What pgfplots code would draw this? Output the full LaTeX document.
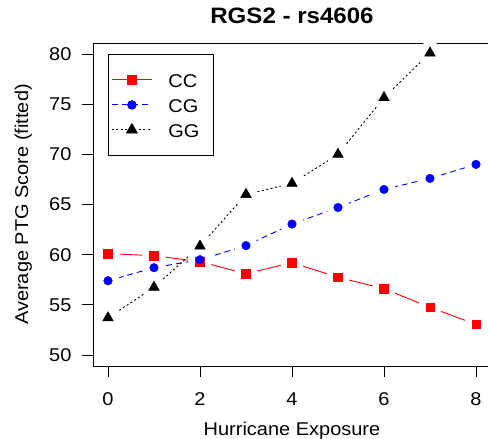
\documentclass[border=0pt]{standalone}
\usepackage{fontspec}
\setmainfont{Liberation Sans}[FakeStretch=1.08]
\usepackage{pgfplots}
\usepackage{pgfplotstable}
\pgfplotsset{compat=1.18}

% fitted PTG score by hurricane exposure, per genotype
\pgfplotstableread{
x y
0 60.1
1 59.9
2 59.3
3 58.1
4 59.2
5 57.75
6 56.6
7 54.75
8 53.05
}\cc
\pgfplotstableread{
x y
0 57.4
1 58.7
2 59.5
3 60.9
4 63.05
5 64.7
6 66.5
7 67.6
8 69.0
}\cg
\pgfplotstableread{
x y
0 53.7
1 56.75
2 60.85
3 66.0
4 67.1
5 70.0
6 75.65
7 80.1
}\gg

\pgfplotsset{
  ccstyle/.style={color=red, solid},
  cgstyle/.style={color=blue, dash pattern=on 6pt off 4pt},
  ggstyle/.style={color=black, dash pattern=on 2pt off 2.5pt},
  joinline/.style={forget plot, no marks, line width=0.9pt},
  halo/.style={forget plot, only marks, mark=*, mark size=11.5pt, color=white},
}

\begin{document}
\begin{tikzpicture}
\begin{axis}[
  clip=false, axis on top,
  scale only axis, width=398pt, height=323pt,
  xmin=-0.326, xmax=8.326, ymin=48.9, ymax=81.1,
  xtick={0,2,4,6,8}, ytick={50,55,60,65,70,75,80},
  xtick pos=left, ytick pos=left, tick align=outside,
  major tick length=11pt,
  every tick/.style={black, line width=0.9pt},
  axis line style={line width=0.9pt},
  /pgf/number format/assume math mode=true,
  ticklabel style={font=\fontsize{18.5}{22}\selectfont},
  xticklabel style={yshift=-12pt},
  yticklabel style={xshift=-7pt},
  label style={font=\fontsize{18.5}{22}\selectfont},
  title={RGS2 - rs4606},
  title style={at={(axis description cs:0.5,1.043)}, anchor=base, font=\fontsize{22.3}{26}\selectfont\bfseries},
  xlabel={Hurricane Exposure},
  ylabel={Average PTG Score (fitted)},
  xlabel style={at={(axis description cs:0.5,-0.2167)}, anchor=base},
  ylabel style={at={(axis description cs:-0.163,0.5)}, anchor=base},
  legend cell align=left,
  legend image code/.code={\draw[mark repeat=2, mark phase=2, #1] plot coordinates {(0pt,0pt) (20pt,0pt) (40pt,0pt)};},
  legend style={at={(axis description cs:0.0377,0.966)}, anchor=north west,
    draw=black, line width=0.9pt, fill=white,
    font=\fontsize{18.5}{22}\selectfont,
    inner xsep=3pt, inner ysep=15.5pt, row sep=5pt, column sep=14pt,
    nodes={inner xsep=2pt, inner ysep=2pt, text height=16pt, text depth=0pt}},
]
% lines first
\addplot[joinline, ccstyle] table {\cc};
\addplot[joinline, cgstyle] table {\cg};
\addplot[joinline, ggstyle] table {\gg};
% white gaps round the points
\addplot[halo] table {\cc};
\addplot[halo] table {\cg};
\addplot[halo] table {\gg};
% points
\addplot[forget plot, only marks, mark=square*, mark size=4.3pt, color=red] table {\cc};
\addplot[forget plot, only marks, mark=*, mark size=4.3pt, color=blue] table {\cg};
\addplot[forget plot, only marks, mark=triangle*, mark size=6.2pt, color=black] table {\gg};

\addlegendimage{ccstyle, line width=0.9pt, mark=square*, mark size=4.3pt, mark options={solid}}
\addlegendentry{CC\hspace*{9pt}}
\addlegendimage{cgstyle, line width=0.9pt, mark=*, mark size=4.3pt, mark options={solid}}
\addlegendentry{CG\hspace*{9pt}}
\addlegendimage{ggstyle, line width=0.9pt, mark=triangle*, mark size=6.2pt, mark options={solid}}
\addlegendentry{GG\hspace*{9pt}}
\end{axis}
\pgfresetboundingbox
\path[use as bounding box] (-93pt,-73pt) rectangle (395pt,366pt);
\end{tikzpicture}
\end{document}
